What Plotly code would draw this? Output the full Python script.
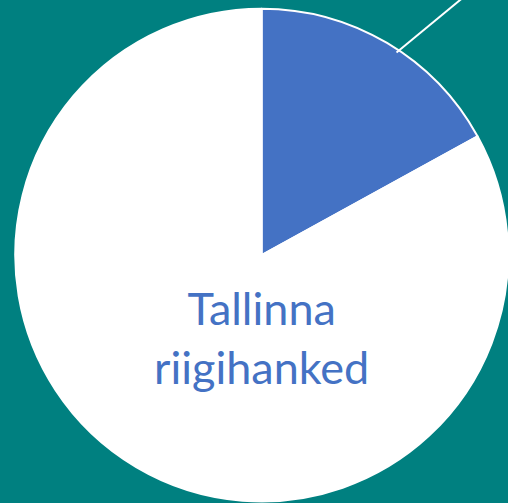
import math
import plotly.graph_objects as go

labels = ["Muud", "Tallinna riigihanked"]
values = [17, 83]
colors = ["#4472C4", "#FFFFFF"]

W, H = 508, 503
dom_x = [0.03, 1.0]
dom_y = [0.0, 0.986]

fig = go.Figure(go.Pie(
    labels=labels, values=values, sort=False, direction="clockwise", rotation=0,
    marker=dict(colors=colors, line=dict(color="#FFFFFF", width=2)),
    textinfo="none", hoverinfo="label+percent", showlegend=False,
    domain=dict(x=dom_x, y=dom_y),
))

# geometry of the pie in paper coords (for leader line and label)
dw = (dom_x[1] - dom_x[0]) * W
dh = (dom_y[1] - dom_y[0]) * H
r = min(dw, dh) / 2
cx = (dom_x[0] * W + dom_x[1] * W) / 2
cy = H - (dom_y[0] * H + dom_y[1] * H) / 2  # from top
frac = values[0] / sum(values)
mid = math.radians(frac * 360 / 2 * 1.1)
sx = cx + (r - 3) * math.sin(mid)
sy = cy - (r - 3) * math.cos(mid)
ex = sx + 80
ey = sy - 66
fig.add_shape(type="line", xref="paper", yref="paper",
              x0=sx / W, y0=1 - sy / H, x1=ex / W, y1=1 - ey / H,
              line=dict(color="#FFFFFF", width=2))

fig.add_annotation(text="Tallinna<br>riigihanked", xref="paper", yref="paper",
                   x=cx / W, y=1 - (cy + 82) / H, showarrow=False,
                   font=dict(family="Lato, Open Sans, sans-serif", size=45, color="#4472C4"),
                   xanchor="center", yanchor="middle")

fig.update_layout(width=W, height=H, margin=dict(l=0, r=0, t=0, b=0),
                  paper_bgcolor="#008080", plot_bgcolor="#008080")
fig.write_html("out.html", config={"displayModeBar": False},
               post_script="document.body.style.margin='0';document.body.style.overflow='hidden';document.body.style.background='#008080';")
